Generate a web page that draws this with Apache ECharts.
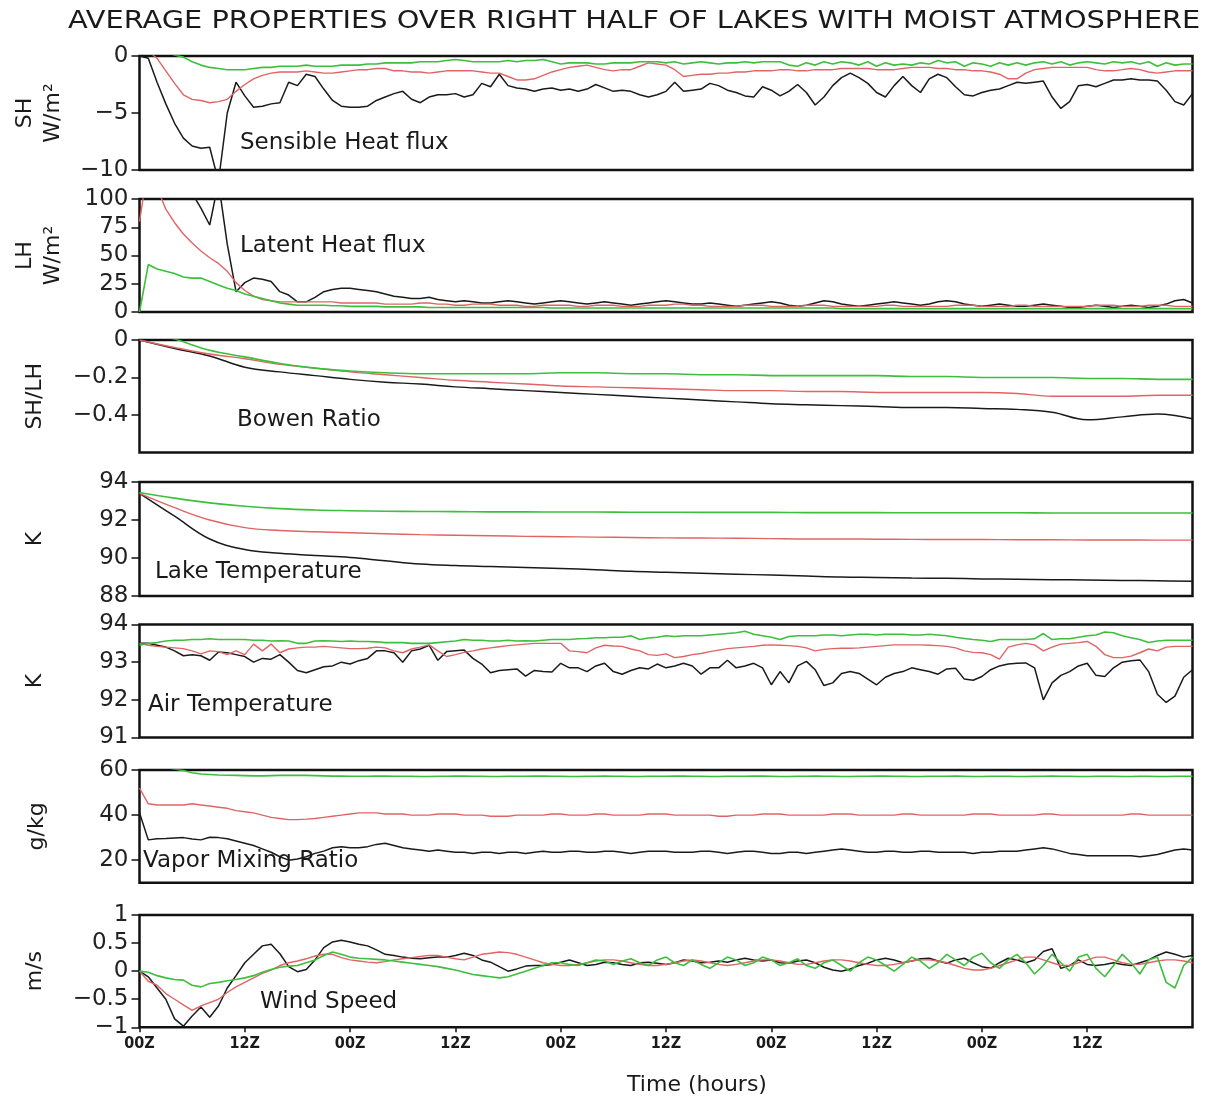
<!DOCTYPE html>
<html>
<head>
<meta charset="utf-8">
<script src="https://cdn.jsdelivr.net/npm/echarts@6/dist/echarts.min.js"></script>
<style>
html,body{margin:0;padding:0;background:#fff}
#chart{width:1206px;height:1102px}
</style>
</head>
<body>
<div id="chart"></div>
<script>
// ---- time axis ----
const xTickHours = [0, 12, 24, 36, 48, 60, 72, 84, 96, 108];
const xTickLabels = ['00Z', '12Z', '00Z', '12Z', '00Z', '12Z', '00Z', '12Z', '00Z', '12Z'];

// ---- Sensible heat flux (W/m2), hourly ----
const shBlack = [
  0, -0.2, -2.3, -4.2, -5.9, -7.2, -7.9, -8.1, -8.0, -11,
  -5.0, -2.3, -3.5, -4.5, -4.4, -4.2, -4.1, -2.3, -2.6, -1.6,
  -1.8, -2.9, -3.9, -4.4, -4.5, -4.5, -4.4, -3.9, -3.6, -3.3,
  -3.1, -3.8, -4.1, -3.6, -3.4, -3.4, -3.3, -3.6, -3.4, -2.4,
  -2.7, -1.6, -2.6, -2.8, -2.9, -3.1, -2.9, -2.8, -3.0, -2.9,
  -3.1, -2.9, -2.5, -2.8, -3.1, -3.0, -3.1, -3.4, -3.6, -3.4,
  -3.1, -2.3, -3.1, -3.0, -2.9, -2.4, -2.6, -3.0, -3.2, -3.5,
  -3.6, -2.7, -3.0, -3.5, -3.1, -2.5, -3.2, -4.3, -3.6, -2.6,
  -1.9, -1.5, -1.9, -2.4, -3.2, -3.6, -2.6, -1.8, -2.6, -3.2,
  -2.0, -1.6, -1.9, -2.7, -3.4, -3.5, -3.2, -3.0, -2.9, -2.6,
  -2.3, -2.4, -2.3, -2.2, -3.6, -4.6, -4.0, -2.6, -2.5, -2.7,
  -2.4, -2.1, -2.1, -2.0, -2.1, -2.1, -2.2, -3.0, -4.0, -4.3,
  -3.3
];
const shRed = [
  0.8, 0.4, -0.2, -1.3, -2.4, -3.4, -3.8, -3.9, -4.1, -4.0,
  -3.8, -3.1, -2.5, -2.0, -1.7, -1.5, -1.4, -1.4, -1.4, -1.3,
  -1.4, -1.5, -1.5, -1.4, -1.3, -1.2, -1.2, -1.1, -1.1, -1.3,
  -1.3, -1.4, -1.4, -1.5, -1.4, -1.3, -1.3, -1.3, -1.3, -1.4,
  -1.5, -1.5, -1.8, -2.1, -2.1, -2.0, -1.7, -1.4, -1.2, -1.0,
  -0.9, -0.8, -1.0, -1.2, -1.3, -1.2, -1.2, -0.9, -0.6, -0.7,
  -0.8, -1.2, -1.8, -1.7, -1.6, -1.6, -1.5, -1.5, -1.4, -1.4,
  -1.3, -1.3, -1.3, -1.2, -1.2, -1.3, -1.3, -1.2, -1.2, -1.2,
  -1.1, -1.1, -1.1, -1.1, -1.2, -1.2, -1.2, -1.1, -1.0, -1.0,
  -1.0, -1.1, -1.1, -1.2, -1.2, -1.3, -1.3, -1.4, -1.6, -2.0,
  -2.0, -1.5, -1.2, -1.1, -1.0, -1.0, -1.0, -1.0, -1.0, -1.2,
  -1.3, -1.3, -1.2, -1.1, -1.2, -1.4, -1.5, -1.4, -1.3, -1.3,
  -1.3
];
const shGreen = [
  0.8, 0.6, 0.4, 0.3, 0.1, -0.1, -0.5, -0.8, -1.0, -1.1,
  -1.2, -1.2, -1.2, -1.1, -1.0, -1.0, -0.9, -0.9, -0.9, -0.8,
  -0.9, -0.9, -0.9, -0.8, -0.8, -0.8, -0.7, -0.7, -0.6, -0.6,
  -0.6, -0.6, -0.5, -0.5, -0.5, -0.4, -0.3, -0.4, -0.5, -0.5,
  -0.5, -0.5, -0.4, -0.5, -0.4, -0.4, -0.3, -0.5, -0.7, -0.6,
  -0.6, -0.6, -0.7, -0.7, -0.6, -0.6, -0.6, -0.5, -0.5, -0.5,
  -0.6, -0.5, -0.7, -0.6, -0.5, -0.6, -0.7, -0.6, -0.6, -0.5,
  -0.6, -0.5, -0.5, -0.5, -0.8, -0.9, -0.6, -0.8, -0.5, -0.7,
  -0.5, -0.6, -0.8, -0.5, -0.9, -0.6, -0.8, -0.7, -0.8, -0.6,
  -0.7, -0.4, -0.6, -0.5, -0.9, -0.6, -0.7, -0.9, -0.6, -0.8,
  -0.6, -0.8, -0.6, -0.5, -0.7, -0.5, -0.8, -0.6, -0.5, -0.6,
  -0.7, -0.5, -0.6, -0.5, -0.7, -0.5, -0.9, -0.6, -0.8, -0.7,
  -0.7
];

// ---- Latent heat flux (W/m2), hourly ----
const lhBlack = [
  160, 150, 140, 130, 122, 115, 105, 92, 77, 115,
  60, 18, 26, 30, 29, 27, 18, 15, 9, 9,
  13, 18, 20, 21, 21, 20, 19, 18, 16, 14,
  13, 12, 12, 13, 11, 10, 9, 10, 9, 8,
  8, 9, 10, 9, 8, 7, 8, 9, 10, 9,
  8, 7, 8, 9, 8, 7, 6, 7, 8, 9,
  10, 9, 8, 7, 7, 8, 7, 6, 5, 6,
  7, 8, 9, 8, 6, 5, 6, 8, 10, 9,
  7, 6, 5, 6, 7, 8, 9, 8, 7, 6,
  7, 9, 10, 9, 7, 6, 5, 6, 7, 6,
  5, 5, 6, 7, 6, 5, 4, 4, 5, 6,
  5, 4, 5, 6, 5, 4, 5, 7, 10, 11,
  8
];
const lhRed = [
  80, 130, 110, 91, 79, 69, 61, 54, 48, 43,
  36, 26, 19, 14, 11, 10, 9, 9, 9, 9,
  9, 9, 9, 8, 8, 8, 8, 8, 7, 7,
  7, 7, 8, 8, 7, 7, 6, 6, 7, 7,
  7, 6, 6, 6, 5, 5, 6, 6, 6, 6,
  5, 5, 6, 6, 6, 5, 5, 5, 6, 6,
  6, 7, 7, 6, 6, 5, 5, 5, 5, 6,
  6, 6, 5, 5, 5, 5, 6, 6, 6, 5,
  5, 5, 5, 5, 5, 6, 6, 5, 5, 5,
  5, 5, 5, 6, 6, 6, 5, 5, 5, 5,
  6, 6, 5, 5, 5, 5, 5, 5, 5, 6,
  6, 6, 5, 5, 5, 6, 6, 6, 5, 5,
  5
];
const lhGreen = [
  0, 42, 38, 36, 34, 31, 30, 30, 27, 24,
  21, 19, 16, 14, 12, 10, 8, 7, 6, 6,
  6, 6, 5.5, 5.5, 5, 5, 5, 5, 4.5, 4.5,
  4.5, 4.5, 4.5, 4, 4, 4, 4, 4, 4, 4,
  4, 4, 4, 4, 4, 4, 4, 3.5, 3.5, 3.5,
  3.5, 3.5, 3.5, 3.5, 3.5, 3.5, 3.5, 3.5, 3.5, 3.5,
  3.5, 3.5, 3.5, 3.5, 3.5, 3.5, 3.5, 3.5, 3.5, 3.5,
  3.5, 3.5, 3.5, 3.5, 3.5, 3.5, 3.5, 3.5, 3.5, 3.5,
  3, 3, 3, 3, 3, 3, 3, 3, 3, 3,
  3, 3, 3, 3, 3, 3, 3, 3, 3, 3,
  3, 3, 3, 3, 3, 3, 3, 3, 3, 3,
  3, 3, 3, 3, 3, 3, 3, 3, 3, 3,
  3
];

// ---- Bowen ratio (SH/LH), every 4 hours ----
const bowenBlack = [
  0, -0.045, -0.085, -0.145, -0.17, -0.19, -0.21, -0.225, -0.235, -0.25,
  -0.26, -0.27, -0.28, -0.29, -0.30, -0.31, -0.32, -0.33, -0.34, -0.345,
  -0.35, -0.355, -0.36, -0.36, -0.365, -0.37, -0.385, -0.425, -0.41, -0.395,
  -0.42
];
const bowenRed = [
  0, -0.04, -0.075, -0.10, -0.13, -0.15, -0.17, -0.185, -0.20, -0.215,
  -0.225, -0.235, -0.245, -0.25, -0.255, -0.26, -0.265, -0.27, -0.27, -0.275,
  -0.275, -0.28, -0.28, -0.28, -0.28, -0.285, -0.30, -0.30, -0.30, -0.295,
  -0.295
];
const bowenGreen = [
  0.05, 0.005, -0.055, -0.09, -0.125, -0.15, -0.165, -0.175, -0.18, -0.18,
  -0.18, -0.18, -0.175, -0.175, -0.18, -0.18, -0.185, -0.185, -0.19, -0.19,
  -0.19, -0.19, -0.195, -0.195, -0.20, -0.20, -0.20, -0.205, -0.205, -0.21,
  -0.21
];

// ---- Lake temperature (K), every 4 hours ----
const lakeBlack = [
  93.4, 92.2, 91.0, 90.45, 90.25, 90.13, 90.03, 89.85, 89.68, 89.6,
  89.55, 89.5, 89.45, 89.38, 89.3, 89.25, 89.2, 89.15, 89.1, 89.05,
  89.0, 88.98, 88.95, 88.93, 88.9, 88.88, 88.86, 88.84, 88.82, 88.8,
  88.78
];
const lakeRed = [
  93.4, 92.65, 92.0, 91.6, 91.45, 91.38, 91.33, 91.28, 91.23, 91.2,
  91.17, 91.14, 91.12, 91.1, 91.08, 91.06, 91.05, 91.04, 91.02, 91.0,
  91.0, 90.99, 90.98, 90.97, 90.97, 90.96, 90.96, 90.95, 90.95, 90.94,
  90.94
];
const lakeGreen = [
  93.45, 93.15, 92.9, 92.72, 92.6, 92.53, 92.49, 92.46, 92.45, 92.44,
  92.43, 92.43, 92.42, 92.42, 92.41, 92.41, 92.4, 92.4, 92.4, 92.39,
  92.39, 92.39, 92.38, 92.38, 92.38, 92.38, 92.37, 92.37, 92.37, 92.37,
  92.37
];

// ---- Air temperature (K), hourly ----
const airBlack = [
  93.5, 93.5, 93.45, 93.4, 93.3, 93.17, 93.2, 93.17, 93.05, 93.27,
  93.25, 93.2, 93.15, 93.0, 93.1, 93.08, 93.2, 93.0, 92.78, 92.72,
  92.8, 92.88, 92.9, 93.0, 92.95, 93.04, 93.1, 93.3, 93.3, 93.25,
  93.0, 93.3, 93.35, 93.45, 93.05, 93.28, 93.3, 93.32, 93.1, 92.95,
  92.72, 92.78, 92.8, 92.82, 92.63, 92.78, 92.75, 92.74, 92.97, 92.85,
  92.85, 92.75, 92.9, 92.97, 92.75, 92.68, 92.78, 92.85, 92.82, 92.95,
  92.85, 92.9, 92.97, 92.9, 92.68, 92.85, 92.85, 93.05, 92.85, 92.9,
  92.97, 92.85, 92.4, 92.75, 92.45, 92.9, 93.02, 92.8, 92.38, 92.45,
  92.7, 92.75, 92.7, 92.55, 92.4, 92.6, 92.7, 92.75, 92.85, 92.8,
  92.75, 92.68, 92.82, 92.84, 92.55, 92.52, 92.62, 92.8, 92.9, 92.95,
  92.97, 92.98, 92.85, 92.0, 92.45, 92.65, 92.75, 92.9, 92.97, 92.65,
  92.62, 92.85, 93.0, 93.04, 93.06, 92.75, 92.15, 91.93, 92.1, 92.6,
  92.8
];
const airRed = [
  93.5, 93.45, 93.42, 93.4, 93.38, 93.36, 93.3, 93.22, 93.3, 93.28,
  93.2, 93.3, 93.2, 93.48, 93.3, 93.48, 93.25, 93.35, 93.38, 93.4,
  93.4, 93.42, 93.4, 93.38, 93.36, 93.36, 93.37, 93.4, 93.38, 93.3,
  93.25, 93.35, 93.4, 93.46, 93.3, 93.15, 93.2, 93.26, 93.3, 93.35,
  93.38, 93.41, 93.44, 93.46, 93.48, 93.5, 93.5, 93.5, 93.5, 93.3,
  93.28, 93.25, 93.38, 93.45, 93.43, 93.42, 93.35, 93.3, 93.2, 93.18,
  93.22, 93.12, 93.15, 93.2, 93.23, 93.28, 93.32, 93.36, 93.38, 93.4,
  93.42, 93.45, 93.46, 93.45, 93.44, 93.42, 93.38, 93.3, 93.34, 93.36,
  93.37, 93.37, 93.38, 93.4, 93.42, 93.44, 93.46, 93.46, 93.46, 93.46,
  93.45, 93.44, 93.42, 93.38, 93.3, 93.26, 93.25, 93.2, 93.08, 93.4,
  93.46, 93.5, 93.46, 93.3, 93.4, 93.48, 93.5, 93.52, 93.55, 93.42,
  93.2, 93.12, 93.12, 93.16, 93.25, 93.35, 93.3, 93.4, 93.42, 93.42,
  93.42
];
const airGreen = [
  93.45, 93.5, 93.52, 93.56, 93.58, 93.58, 93.6, 93.6, 93.62, 93.6,
  93.6, 93.6, 93.6, 93.58, 93.58, 93.56, 93.57, 93.56, 93.5, 93.5,
  93.56, 93.57, 93.56, 93.55, 93.56, 93.55, 93.55, 93.54, 93.52, 93.52,
  93.52, 93.5, 93.5, 93.5, 93.52, 93.54, 93.56, 93.6, 93.58, 93.58,
  93.56, 93.56, 93.58, 93.56, 93.57, 93.56, 93.58, 93.6, 93.6, 93.6,
  93.62, 93.63, 93.65, 93.65, 93.66, 93.66, 93.7, 93.6, 93.64, 93.66,
  93.7, 93.68, 93.7, 93.7, 93.7, 93.72, 93.74, 93.76, 93.78, 93.82,
  93.74, 93.7, 93.66, 93.6, 93.68, 93.7, 93.7, 93.7, 93.72, 93.72,
  93.7, 93.72, 93.74, 93.74, 93.72, 93.74, 93.74, 93.74, 93.72, 93.72,
  93.74, 93.72, 93.7, 93.66, 93.63, 93.6, 93.58, 93.55, 93.6, 93.6,
  93.6, 93.6, 93.62, 93.76, 93.6, 93.62, 93.62, 93.66, 93.7, 93.72,
  93.8, 93.78, 93.7, 93.65, 93.6, 93.52, 93.56, 93.58, 93.58, 93.58,
  93.58
];

// ---- Vapor mixing ratio (g/kg), hourly ----
const vaporBlack = [
  41, 29, 29.5, 29.6, 29.8, 30, 29.4, 29, 30.2, 30,
  29.5, 28.5, 27.5, 26.5, 25, 23.5, 21.5, 20, 20.5, 21.5,
  23, 24, 25.5, 26, 25.5, 25.5, 26, 27, 27.5, 26.5,
  25.5, 25, 24.5, 24, 24.5, 24, 23.5, 23.5, 23, 23.5,
  23.5, 23, 23.5, 23.5, 23, 23.5, 24, 23.5, 23.5, 24,
  24, 23.5, 23.5, 24, 24, 23.5, 23, 23.5, 24, 24,
  24, 23.5, 23.5, 23.5, 24, 24, 23.5, 23, 23.5, 24,
  24, 23.5, 23, 23, 23.5, 23.5, 23, 23.5, 24, 24.5,
  25, 24.5, 24, 23.5, 23.5, 24, 24, 23.5, 23.5, 24,
  24, 23.5, 23.5, 23.5, 23.5, 23, 23.5, 23.5, 24, 24,
  24, 24.5, 25, 25.5, 25, 24, 23, 22.5, 22, 22,
  22, 22, 22, 22, 21.5, 22, 22.5, 23.5, 24.5, 25,
  24.5
];
const vaporRed = [
  52, 45, 44.5, 44.5, 44.5, 44.5, 45, 44.5, 44, 43.5,
  43, 42, 41.5, 41, 40, 39, 38.5, 38, 38, 38.2,
  38.5, 39, 39.5, 40, 40.5, 41, 41, 41, 40.5, 40.5,
  40.5, 40, 40, 40, 40.5, 40.5, 40.5, 40, 40, 40,
  39.5, 39.5, 39.5, 40, 40, 40, 40, 40.5, 40.5, 40,
  40, 40, 40.5, 40.5, 40, 40, 40, 40, 40.5, 40.5,
  40.5, 40, 40, 40, 40, 40, 39.5, 39.5, 40, 40,
  40, 40.5, 40.5, 40.5, 40, 40, 40, 40, 40, 40.5,
  40.5, 40.5, 40, 40, 40, 40, 40, 40.5, 40.5, 40,
  40, 40, 40, 40, 40, 40.5, 40.5, 40.5, 40, 40,
  40, 40, 40, 40.5, 40.5, 40, 40, 40, 40, 40,
  40, 40, 40, 40.5, 40.5, 40, 40, 40, 40, 40,
  40
];
const vaporGreen = [
  61, 61, 61, 61, 60.5, 59.8, 58.8, 58.2, 58, 57.8,
  57.7, 57.6, 57.5, 57.4, 57.4, 57.5, 57.6, 57.6, 57.6, 57.6,
  57.5, 57.4, 57.3, 57.3, 57.2, 57.2, 57.2, 57.3, 57.3, 57.2,
  57.2, 57.2, 57.1, 57.1, 57.2, 57.2, 57.3, 57.3, 57.2, 57.2,
  57.1, 57.1, 57.2, 57.2, 57.2, 57.3, 57.3, 57.2, 57.2, 57.1,
  57.1, 57.2, 57.2, 57.3, 57.2, 57.2, 57.1, 57.1, 57.2, 57.2,
  57.2, 57.3, 57.3, 57.2, 57.2, 57.1, 57.1, 57.2, 57.2, 57.2,
  57.3, 57.3, 57.2, 57.1, 57.1, 57.2, 57.2, 57.3, 57.2, 57.2,
  57.1, 57.1, 57.2, 57.2, 57.3, 57.3, 57.2, 57.2, 57.1, 57.1,
  57.2, 57.2, 57.2, 57.3, 57.2, 57.1, 57.1, 57.2, 57.2, 57.2,
  57.1, 57.1, 57.2, 57.2, 57.3, 57.2, 57.2, 57.1, 57.1, 57.2,
  57.2, 57.2, 57.1, 57.1, 57.2, 57.2, 57.1, 57.1, 57.2, 57.2,
  57.2
];

// ---- Wind speed (m/s), hourly ----
const windBlack = [
  0, -0.1, -0.3, -0.5, -0.85, -0.98, -0.8, -0.64, -0.82, -0.62,
  -0.3, -0.08, 0.15, 0.3, 0.45, 0.48, 0.31, 0.08, -0.01, 0.03,
  0.2, 0.42, 0.52, 0.55, 0.52, 0.48, 0.45, 0.38, 0.3, 0.28,
  0.25, 0.23, 0.22, 0.24, 0.25, 0.25, 0.28, 0.32, 0.28, 0.2,
  0.16, 0.08, 0.0, 0.04, 0.09, 0.1, 0.1, 0.12, 0.16, 0.2,
  0.15, 0.1, 0.12, 0.16, 0.15, 0.12, 0.1, 0.15, 0.16, 0.14,
  0.12, 0.15, 0.2, 0.18, 0.15, 0.16, 0.18, 0.16, 0.2, 0.23,
  0.2, 0.18, 0.2, 0.15, 0.14, 0.18, 0.2, 0.15, 0.07, 0.02,
  0.0, 0.04, 0.1, 0.14, 0.2, 0.23, 0.2, 0.15, 0.18, 0.22,
  0.23, 0.18, 0.14, 0.2, 0.23, 0.15, 0.08, 0.05, 0.15, 0.23,
  0.2, 0.15, 0.2, 0.35, 0.4, 0.05, 0.1, 0.2, 0.12, 0.1,
  0.12, 0.15, 0.12, 0.1, 0.15, 0.2, 0.28, 0.34, 0.3, 0.25,
  0.28
];
const windRed = [
  0, -0.18, -0.25, -0.4, -0.5, -0.6, -0.7, -0.62, -0.56, -0.5,
  -0.38, -0.28, -0.2, -0.12, -0.04, 0.02, 0.1, 0.15, 0.18, 0.22,
  0.27, 0.3, 0.3, 0.24, 0.2, 0.18, 0.16, 0.15, 0.17, 0.2,
  0.22, 0.24, 0.26, 0.28, 0.28, 0.25, 0.22, 0.2, 0.25, 0.3,
  0.32, 0.34, 0.33, 0.3, 0.25, 0.2, 0.15, 0.12, 0.1, 0.1,
  0.12, 0.15, 0.18, 0.2, 0.2, 0.18, 0.15, 0.12, 0.1, 0.1,
  0.12, 0.15, 0.18, 0.2, 0.18, 0.15, 0.12, 0.1, 0.12, 0.15,
  0.18, 0.2, 0.2, 0.18, 0.15, 0.12, 0.12, 0.15, 0.18, 0.2,
  0.2, 0.18, 0.15, 0.12, 0.1, 0.1, 0.12, 0.15, 0.18, 0.2,
  0.2, 0.18, 0.15, 0.1, 0.05, 0.02, 0.02, 0.05, 0.1, 0.15,
  0.2, 0.25, 0.25, 0.2, 0.15, 0.1, 0.1, 0.15, 0.2, 0.25,
  0.25, 0.2, 0.15, 0.12, 0.12, 0.15, 0.18, 0.2, 0.2, 0.18,
  0.15
];
const windGreen = [
  0, -0.02, -0.08, -0.12, -0.15, -0.16, -0.25, -0.28, -0.22, -0.2,
  -0.17, -0.15, -0.12, -0.08, -0.02, 0.03, 0.07, 0.09, 0.1, 0.15,
  0.2, 0.28, 0.34, 0.3, 0.25, 0.23, 0.22, 0.21, 0.2, 0.18,
  0.16, 0.14, 0.12, 0.1, 0.08, 0.05, 0.02, -0.02, -0.06, -0.08,
  -0.1, -0.12, -0.1, -0.05, 0.0, 0.05, 0.1, 0.15, 0.15, 0.12,
  0.1, 0.15, 0.2, 0.18, 0.12, 0.18, 0.22, 0.15, 0.1, 0.2,
  0.25, 0.15, 0.1, 0.2, 0.12, 0.05, 0.15, 0.25, 0.2, 0.1,
  0.15, 0.25, 0.2, 0.1, 0.15, 0.22, 0.1, 0.05, 0.15, 0.2,
  0.1, 0.0, 0.15, 0.25, 0.2, 0.1, 0.0, 0.12, 0.25, 0.18,
  0.05, 0.15, 0.3, 0.2, 0.1, 0.25, 0.32, 0.15, 0.05, 0.2,
  0.3, 0.15, -0.05, 0.1, 0.3, 0.15, 0.0, 0.25, 0.3, 0.05,
  -0.1, 0.1, 0.3, 0.15, -0.05, 0.2, 0.25, -0.2, -0.3, 0.1,
  0.25
];

// ---- drawing ----
const FONT = 'DejaVu Sans';
const TEXT = '#1a1a1a';
const LINE_COLORS = ['#1a1a1a', '#e06464', '#3cbf3c'];
const LINE_WIDTHS = [1.5, 1.4, 1.6];

const PLOT_LEFT = 139.5;
const PLOT_RIGHT = 13.5;

// One entry per stacked panel: frame, y scale and the three curves.
const panels = [
  { top: 56, height: 114, min: -10, max: 0, interval: 5, ticks: [0, -5, -10],
    name: 'SH\nW/m²', nameGap: 72, step: 1, series: [shBlack, shRed, shGreen],
    label: 'Sensible Heat flux', lx: 240, ly: 145 },
  { top: 199, height: 113, min: 0, max: 100, interval: 25, ticks: [0, 25, 50, 75, 100],
    name: 'LH\nW/m²', nameGap: 72, step: 1, series: [lhBlack, lhRed, lhGreen],
    label: 'Latent Heat flux', lx: 240, ly: 248 },
  { top: 340, height: 112.5, min: -0.6, max: 0, interval: 0.2, ticks: [0, -0.2, -0.4],
    name: 'SH/LH', nameGap: 90, step: 4, series: [bowenBlack, bowenRed, bowenGreen],
    label: 'Bowen Ratio', lx: 237, ly: 422 },
  { top: 482, height: 114, min: 88, max: 94, interval: 2, ticks: [88, 90, 92, 94],
    name: 'K', nameGap: 90, step: 4, series: [lakeBlack, lakeRed, lakeGreen],
    label: 'Lake Temperature', lx: 155, ly: 574 },
  { top: 624.5, height: 113, min: 91, max: 94, interval: 1, ticks: [91, 92, 93, 94],
    name: 'K', nameGap: 90, step: 1, series: [airBlack, airRed, airGreen],
    label: 'Air Temperature', lx: 148, ly: 707 },
  { top: 770, height: 112.7, min: 10, max: 60, interval: 10, ticks: [20, 40, 60],
    name: 'g/kg', nameGap: 88, step: 1, series: [vaporBlack, vaporRed, vaporGreen],
    label: 'Vapor Mixing Ratio', lx: 143, ly: 863 },
  { top: 915, height: 112.3, min: -1, max: 1, interval: 0.5, ticks: [-1, -0.5, 0, 0.5, 1],
    name: 'm/s', nameGap: 90, step: 1, series: [windBlack, windRed, windGreen],
    label: 'Wind Speed', lx: 260, ly: 1004 }
];

const fmt = v => String(Math.round(v * 100) / 100).replace('-', '\u2212');

const grid = [], xAxis = [], yAxis = [], series = [], graphic = [];

panels.forEach((p, i) => {
  const last = i === panels.length - 1;
  grid.push({
    left: PLOT_LEFT, right: PLOT_RIGHT, top: p.top, height: p.height,
    show: true, borderColor: '#111', borderWidth: 2.5, backgroundColor: 'transparent'
  });
  xAxis.push({
    type: 'value', gridIndex: i, min: 0, max: 120, interval: 12,
    position: 'bottom',
    axisLine: { show: false, onZero: false },
    splitLine: { show: false },
    axisTick: last ? { show: true, length: 5, inside: false, customValues: xTickHours,
                       lineStyle: { color: '#111', width: 1.5 } } : { show: false },
    axisLabel: last ? {
      show: true, margin: 9, customValues: xTickHours,
      fontFamily: 'DejaVu Sans Condensed', fontWeight: 'bold', fontSize: 16, color: TEXT,
      formatter: v => xTickLabels[xTickHours.indexOf(Math.round(v))] || ''
    } : { show: false },
    name: last ? 'Time (hours)' : '',
    nameLocation: 'middle', nameGap: 47,
    nameTextStyle: { fontFamily: FONT, fontSize: 22, color: TEXT, padding: [0, 0, 0, 62] }
  });
  yAxis.push({
    type: 'value', gridIndex: i, min: p.min, max: p.max, interval: p.interval,
    axisLine: { show: false, onZero: false },
    splitLine: { show: false },
    axisTick: { show: true, length: 8, inside: false, customValues: p.ticks,
                lineStyle: { color: '#111', width: 1.5 } },
    axisLabel: { show: true, margin: 11, customValues: p.ticks, formatter: fmt,
                 fontFamily: FONT, fontSize: 23, color: '#222' },
    name: p.name, nameLocation: 'middle', nameRotate: 90, nameGap: p.nameGap,
    nameTextStyle: { fontFamily: FONT, fontSize: 22, color: TEXT, lineHeight: 28 }
  });
  p.series.forEach((vals, k) => {
    series.push({
      type: 'line', xAxisIndex: i, yAxisIndex: i,
      data: vals.map((v, j) => [j * p.step, v]),
      showSymbol: false, symbol: 'none', clip: true,
      smooth: p.step > 1 ? 0.4 : false,
      lineStyle: { color: LINE_COLORS[k], width: LINE_WIDTHS[k] },
      z: 2 + k, silent: true
    });
  });
  graphic.push({
    type: 'text', left: p.lx, top: p.ly - 13, z: 10,
    style: { text: p.label, font: '23px "DejaVu Sans"', fill: TEXT }
  });
});

// Page title, stretched to span the full width above the panels.
graphic.push({
  type: 'text', x: 68, y: 22, scaleX: 1.2, z: 10,
  style: { text: 'AVERAGE PROPERTIES OVER RIGHT HALF OF LAKES WITH MOIST ATMOSPHERE',
           font: '24px "DejaVu Sans"', fill: TEXT, verticalAlign: 'middle' }
});

const chart = echarts.init(document.getElementById('chart'), null, { renderer: 'canvas' });
chart.setOption({
  backgroundColor: '#fff',
  animation: false,
  grid, xAxis, yAxis, series, graphic
});
</script>
</body>
</html>
